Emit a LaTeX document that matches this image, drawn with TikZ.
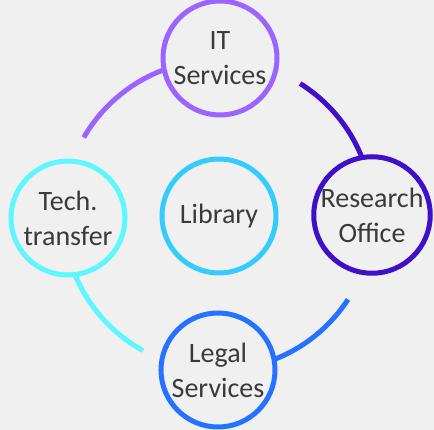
\documentclass[tikz,border=0pt]{standalone}
\usepackage{fontspec}
\setmainfont{Carlito}
\usepackage{tikz}
\usetikzlibrary{positioning}
\definecolor{Ink}{HTML}{3A3A3A}
\definecolor{Paper}{HTML}{F0F0F0}
\definecolor{Lilac}{HTML}{9B64FF}
\definecolor{Indigo}{HTML}{4010C8}
\definecolor{Azure}{HTML}{2472FF}
\definecolor{Sky}{HTML}{33CCFF}
\definecolor{Aqua}{HTML}{5EF6FF}
\tikzset{
  unit/.style={circle,draw,fill=Paper,line width=5pt,minimum size=114pt,inner sep=0pt,align=center,text=Ink,font=\fontsize{28}{35}\selectfont},
  unitlilac/.style={unit,draw=Lilac},
  unitindigo/.style={unit,draw=Indigo},
  unitazure/.style={unit,draw=Azure},
  unitaqua/.style={unit,draw=Aqua},
  unitsky/.style={unit,draw=Sky},
  link/.style={line width=5pt}
}

\begin{document}
\begin{tikzpicture}[x=1pt,y=1pt]
  \fill[Paper] (0,0) rectangle (434,430);
  \useasboundingbox (0,0) rectangle (434,430);
  \coordinate (ring) at (218,215);
  % arcs of the cycle, each leaving one circle
  \draw[link,draw=Lilac] (ring) ++(90:155) arc[start angle=90,end angle=150,radius=155];
  \draw[link,draw=Aqua] (ring) ++(180:155) arc[start angle=180,end angle=241,radius=155];
  \draw[link,draw=Azure] (ring) ++(270:155) arc[start angle=270,end angle=327,radius=155];
  \draw[link,draw=Indigo] (ring) ++(0:155) arc[start angle=0,end angle=58,radius=155];
  \node[unitlilac] (it) at (220,372) {IT\\Services};
  \node[unitindigo] (research) at (372,215) {Research\\Office};
  \node[unitazure] (legal) at (218,60) {Legal\\Services};
  \node[unitaqua] (tech) at (68,212) {Tech.\\transfer};
  \node[unitsky] (library) at (219,214) {Library};
\end{tikzpicture}
\end{document}
